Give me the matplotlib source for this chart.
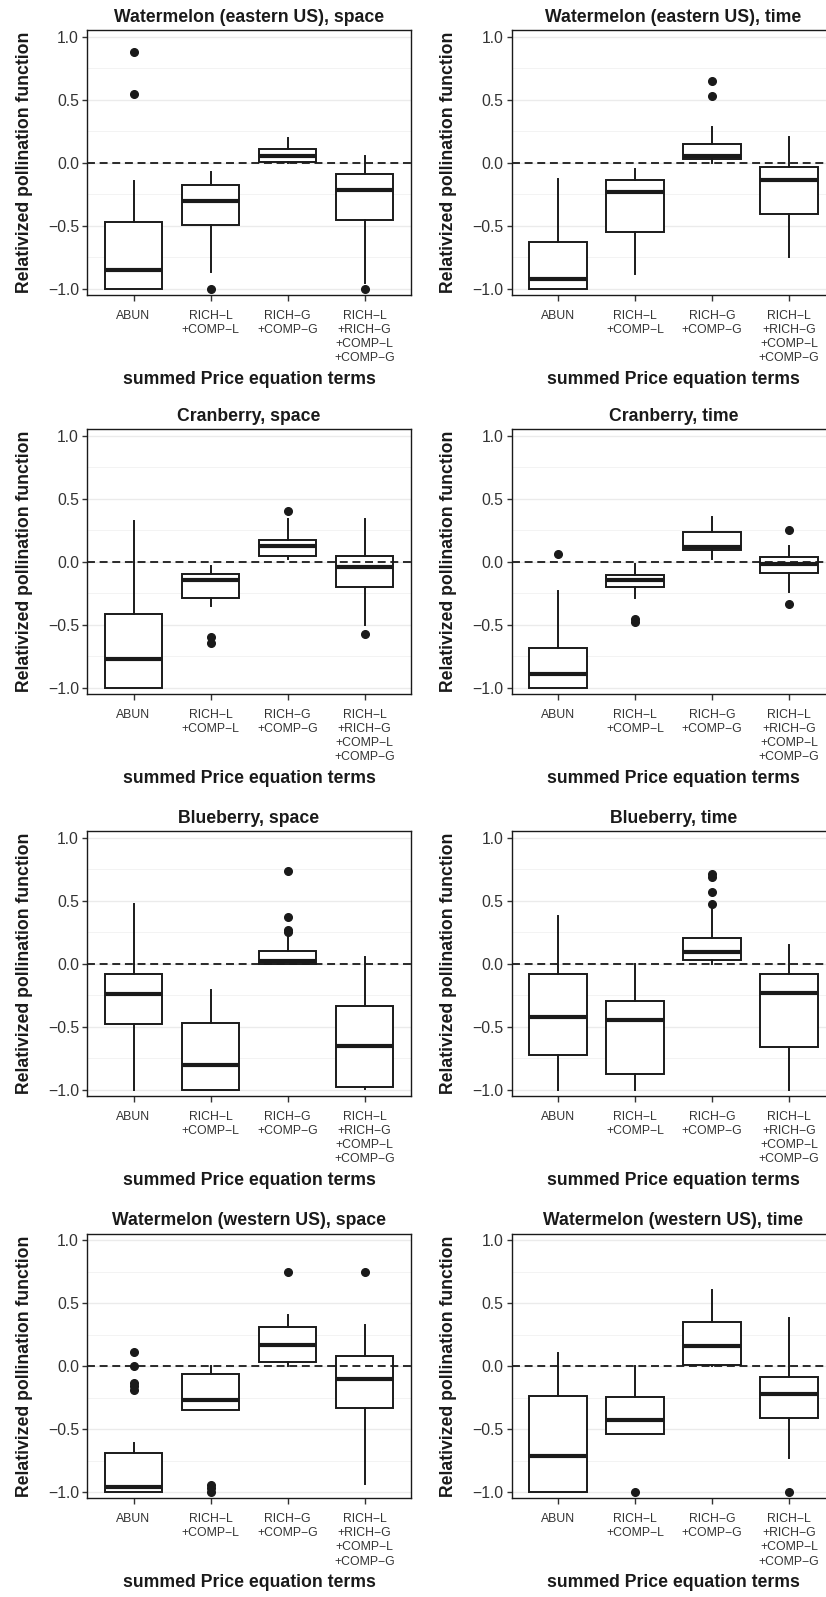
import matplotlib.pyplot as plt
import numpy as np

plt.rcParams['font.family'] = ['Liberation Sans', 'DejaVu Sans']

titles = ["Watermelon (eastern US), space", "Watermelon (eastern US), time",
          "Cranberry, space", "Cranberry, time",
          "Blueberry, space", "Blueberry, time",
          "Watermelon (western US), space", "Watermelon (western US), time"]
categories = ["ABUN", "RICH\u2212L\n+COMP\u2212L", "RICH\u2212G\n+COMP\u2212G",
              "RICH\u2212L\n+RICH\u2212G\n+COMP\u2212L\n+COMP\u2212G"]
ytick_vals = [-1.0, -0.5, 0.0, 0.5, 1.0]
ytick_labels = ["\u22121.0", "\u22120.5", "0.0", "0.5", "1.0"]

# box statistics, one row per panel, one value per category
q1 = [[-1.000, -0.492, 0.003, -0.452],
      [-1.000, -0.550, 0.032, -0.405],
      [-1.000, -0.292, 0.049, -0.197],
      [-1.000, -0.202, 0.096, -0.087],
      [-0.481, -1.000, 0.000, -0.976],
      [-0.721, -0.879, 0.033, -0.665],
      [-1.000, -0.351, 0.034, -0.332],
      [-1.000, -0.536, 0.008, -0.414]]
med = [[-0.852, -0.304, 0.052, -0.220],
       [-0.926, -0.233, 0.055, -0.138],
       [-0.775, -0.144, 0.125, -0.046],
       [-0.894, -0.149, 0.120, -0.020],
       [-0.244, -0.805, 0.022, -0.657],
       [-0.420, -0.449, 0.096, -0.233],
       [-0.958, -0.269, 0.164, -0.100],
       [-0.718, -0.425, 0.156, -0.219]]
q3 = [[-0.468, -0.177, 0.111, -0.090],
      [-0.627, -0.138, 0.148, -0.032],
      [-0.413, -0.099, 0.176, 0.049],
      [-0.688, -0.102, 0.236, 0.038],
      [-0.078, -0.473, 0.099, -0.333],
      [-0.080, -0.296, 0.204, -0.085],
      [-0.689, -0.061, 0.311, 0.077],
      [-0.240, -0.243, 0.348, -0.084]]
whislo = [[-1.000, -0.865, 0.000, -0.952],
          [-1.000, -0.884, 0.000, -0.751],
          [-1.000, -0.355, 0.020, -0.503],
          [-1.000, -0.289, 0.025, -0.244],
          [-1.000, -1.000, 0.000, -0.995],
          [-1.000, -1.000, 0.000, -1.000],
          [-1.000, -0.351, 0.000, -0.939],
          [-1.000, -0.536, 0.000, -0.728]]
whishi = [[-0.146, -0.077, 0.193, 0.056],
          [-0.130, -0.053, 0.286, 0.206],
          [0.326, -0.038, 0.337, 0.337],
          [-0.231, -0.017, 0.353, 0.125],
          [0.473, -0.209, 0.225, 0.051],
          [0.378, 0.000, 0.439, 0.149],
          [-0.615, 0.000, 0.401, 0.325],
          [0.103, 0.000, 0.604, 0.377]]
fliers = [[[0.876, 0.545], [-1.0], [], [-1.0]],
          [[], [], [0.651, 0.529], []],
          [[], [-0.598, -0.646], [0.400], [-0.575]],
          [[0.065], [-0.456, -0.480], [], [0.250, -0.337]],
          [[], [], [0.739, 0.373, 0.265, 0.255], []],
          [[], [], [0.473, 0.568, 0.692, 0.713], []],
          [[0.111, 0.0, -0.135, -0.155, -0.190], [-0.947, -0.970, -1.0], [0.744], [0.744]],
          [[], [-1.0], [], [-1.0]]]

W, H = 826, 1597
fig = plt.figure(figsize=(W / 100, H / 100), dpi=100)

col_left = [87.3, 511.7]
ax_w = 323.4
row_y1 = [36.7, 435.7, 837.7, 1240.0]   # pixel row of y = 1.0
unit = 126.0                              # pixels per data unit
ink = '#1a1a1a'

for i in range(8):
    r, c = divmod(i, 2)
    top = row_y1[r] - 0.05 * unit
    h = 2.1 * unit
    ax = fig.add_axes([col_left[c] / W, 1 - (top + h) / H, ax_w / W, h / H])

    stats = []
    for j in range(4):
        stats.append(dict(med=med[i][j], q1=q1[i][j], q3=q3[i][j],
                          whislo=whislo[i][j], whishi=whishi[i][j],
                          fliers=np.array(fliers[i][j])))
    ax.bxp(stats, positions=[1, 2, 3, 4], widths=0.75, patch_artist=True,
           showcaps=False,
           boxprops=dict(facecolor='white', edgecolor=ink, linewidth=1.4),
           medianprops=dict(color=ink, linewidth=3.0, solid_capstyle='butt'),
           whiskerprops=dict(color=ink, linewidth=1.4),
           flierprops=dict(marker='o', markerfacecolor=ink, markeredgecolor=ink,
                           markersize=5.5, linestyle='none'))
    ax.axhline(0, color=ink, lw=1.3, ls=(0, (4.4, 2.6)), zorder=4)

    ax.set_xlim(0.4, 4.6)
    ax.set_ylim(-1.05, 1.05)
    ax.set_xticks([1, 2, 3, 4])
    ax.set_xticklabels(categories, fontsize=8.8, color='#333333', linespacing=1.25)
    ax.set_yticks(ytick_vals)
    ax.set_yticklabels(ytick_labels, fontsize=11.3, color='#333333')
    ax.set_yticks([-0.75, -0.25, 0.25, 0.75], minor=True)
    ax.tick_params(axis='x', length=4.5, width=1.0, color='#333333', pad=6)
    ax.tick_params(axis='y', length=3.5, width=1.0, color='#333333', pad=2.5)
    ax.tick_params(axis='y', which='minor', length=0)
    ax.set_axisbelow(True)
    ax.yaxis.grid(True, which='major', color='#ebebeb', lw=1.0)
    ax.yaxis.grid(True, which='minor', color='#f3f3f3', lw=0.7)
    for s in ax.spines.values():
        s.set_color(ink)
        s.set_linewidth(1.0)

    ax.set_title(titles[i], fontsize=12.7, fontweight='bold', color=ink, pad=6)
    ax.set_xlabel("summed Price equation terms", fontsize=12.7, fontweight='bold', color=ink)
    ax.xaxis.set_label_coords(0.5, -0.287)
    ax.set_ylabel("Relativized pollination function", fontsize=12.7, fontweight='bold', color=ink)
    ax.yaxis.set_label_coords(-0.168, 0.5)

fig.savefig("out.png", dpi=100)
